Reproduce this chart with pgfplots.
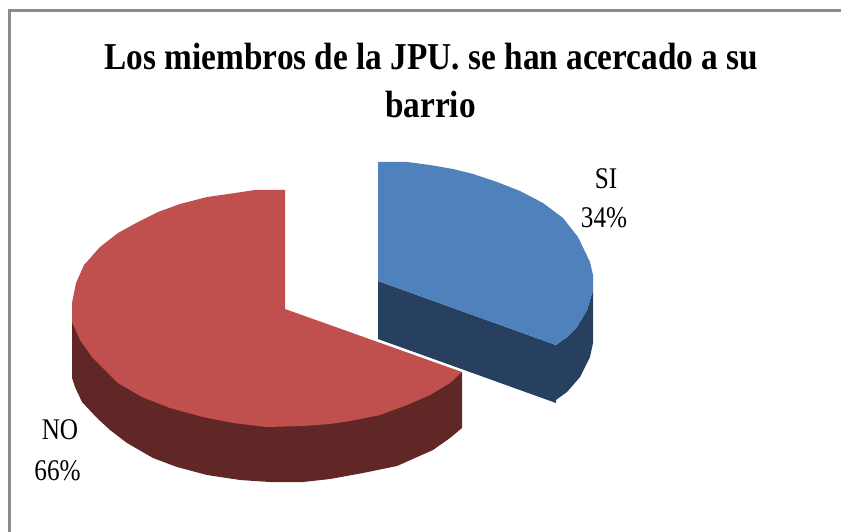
\documentclass[border=0pt]{standalone}
\usepackage{fontspec}
\setmainfont{Liberation Serif}
\usepackage{pgfplots}
\pgfplotsset{compat=1.18}
\definecolor{blueTop}{HTML}{4F81BD}
\definecolor{blueSide}{HTML}{274060}
\definecolor{redTop}{HTML}{C0504D}
\definecolor{redSide}{HTML}{612727}
\definecolor{frameC}{HTML}{8C8C8C}
\begin{document}
\begin{tikzpicture}
\path[use as bounding box] (0,0) rectangle (841pt,532pt);
\begin{axis}[
  at={(0,0)},anchor=south west,
  width=841pt,height=532pt,scale only axis,
  xmin=0,xmax=841,ymin=0,ymax=532,y dir=reverse,
  hide axis,clip=true]
% frame
\addplot[draw=frameC,line width=2.7pt] coordinates {(9.5,532) (9.5,10.7) (841,10.7)};
% red side
\addplot[fill=redSide,draw=none] coordinates {(72,303)(72,378)(75,387)(82,402)(97,418)(110,430)(127,443)(153,458)(177,467)(207,475)(240,480)(270,482)(303,482)(330,479)(363,473)(397,466)(433,450)(450,438)(462,428)(462,372)(267,400)} --cycle;
% red top
\addplot[fill=redTop,draw=none] coordinates {(285,190)(255,190)(235,193)(207,197)(180,204)(158,212)(138,222)(118,233)(100,247)(84,265)(76,283)(72,303)(72,322)(80,340)(92,357)(105,370)(118,383)(142,397)(170,408)(203,417)(233,423)(267,427)(303,426)(330,424)(350,421)(380,415)(407,405)(430,395)(450,383)(462,372)(285,309)} --cycle;
% blue sides
\addplot[fill=blueSide,draw=none] coordinates {(378,281)(556,345)(556,403)(378,339)} --cycle;
\addplot[fill=blueSide,draw=none] coordinates {(556,345)(567,337)(577,327)(587,310)(593,290)(593,343)(590,357)(580,377)(567,392)(556,400)} --cycle;
% blue top
\addplot[fill=blueTop,draw=none] coordinates {(378,162)(407,162)(430,165)(453,169)(473,174)(497,182)(520,191)(543,203)(563,218)(578,237)(590,262)(593,275)(593,290)(587,310)(577,327)(567,337)(556,345)(378,281)} --cycle;
% texts
\node[anchor=base,xscale=0.876,inner sep=0pt,font=\fontsize{38}{40}\selectfont\bfseries] at (axis cs:431.5,69.3) {Los miembros de la JPU. se han acercado a su};
\node[anchor=base,xscale=0.876,inner sep=0pt,font=\fontsize{38}{40}\selectfont\bfseries] at (axis cs:430.5,118) {barrio};
\node[anchor=base,xscale=0.84,inner sep=0pt,font=\fontsize{30}{32}\selectfont] at (axis cs:606,188.3) {SI};
\node[anchor=base,xscale=0.84,inner sep=0pt,font=\fontsize{30}{32}\selectfont] at (axis cs:604,227.7) {34\%};
\node[anchor=base,xscale=0.84,inner sep=0pt,font=\fontsize{30}{32}\selectfont] at (axis cs:60,439.3) {NO};
\node[anchor=base,xscale=0.84,inner sep=0pt,font=\fontsize{30}{32}\selectfont] at (axis cs:57.5,480) {66\%};
\end{axis}
\end{tikzpicture}
\end{document}
